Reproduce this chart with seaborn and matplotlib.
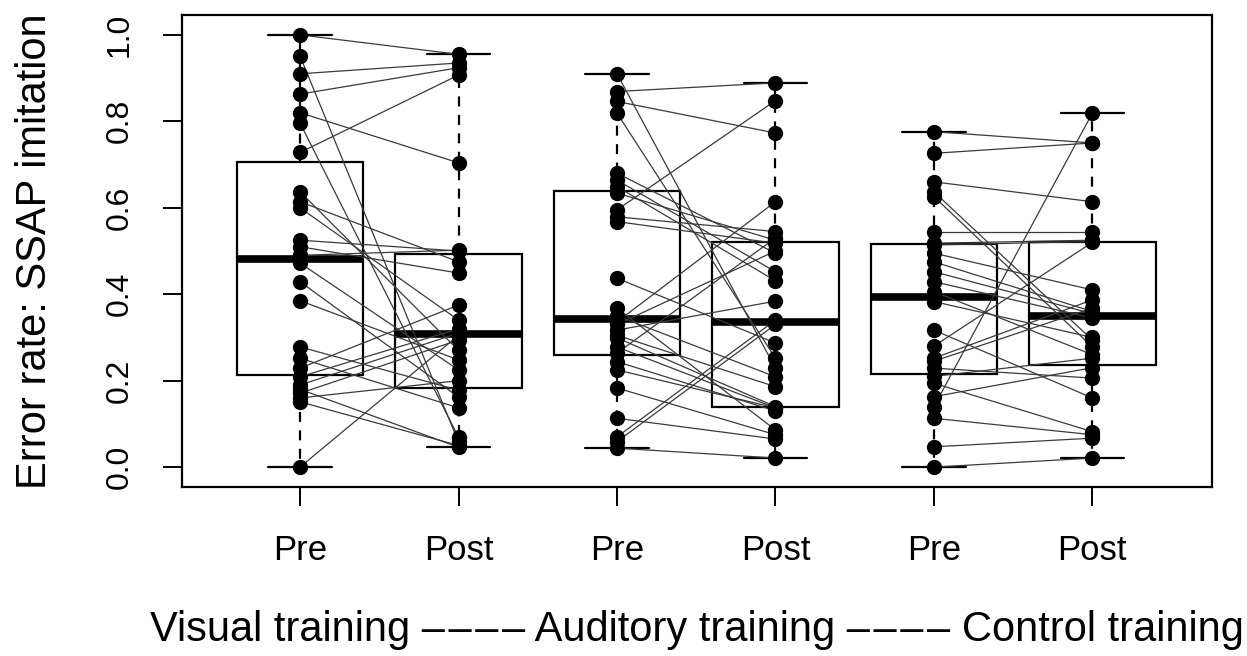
import pandas as pd
import seaborn as sns
import matplotlib.pyplot as plt

# error rates per participant, pre and post (same order = same participant)
groups = ["Visual", "Auditory", "Control"]
phases = ["Pre", "Post"]
tick_labels = ["Pre", "Post", "Pre", "Post", "Pre", "Post"]
y_ticks = [0.0, 0.2, 0.4, 0.6, 0.8, 1.0]
y_tick_labels = ["0.0", "0.2", "0.4", "0.6", "0.8", "1.0"]

visual_pre = [1.0, 0.951, 0.91, 0.863, 0.82, 0.796, 0.728, 0.637, 0.614, 0.60, 0.525, 0.51, 0.49,
              0.472, 0.429, 0.385, 0.278, 0.252, 0.229, 0.209, 0.19, 0.18, 0.171, 0.16, 0.151, 0.0]
visual_post = [0.955, 0.058, 0.935, 0.924, 0.704, 0.069, 0.907, 0.27, 0.475, 0.34, 0.50, 0.449, 0.502,
               0.225, 0.162, 0.248, 0.178, 0.137, 0.375, 0.32, 0.31, 0.046, 0.294, 0.20, 0.05, 0.305]

auditory_pre = [0.91, 0.869, 0.846, 0.819, 0.68, 0.664, 0.649, 0.634, 0.595, 0.579, 0.568, 0.437, 0.368, 0.35,
                0.336, 0.33, 0.317, 0.305, 0.299, 0.278, 0.264, 0.244, 0.225, 0.183, 0.113, 0.070, 0.059, 0.044]
auditory_post = [0.229, 0.889, 0.773, 0.252, 0.495, 0.452, 0.431, 0.525, 0.848, 0.545, 0.518, 0.287, 0.086, 0.209,
                 0.614, 0.50, 0.384, 0.186, 0.14, 0.137, 0.53, 0.13, 0.137, 0.075, 0.065, 0.34, 0.33, 0.021]

control_pre = [0.776, 0.726, 0.66, 0.637, 0.626, 0.545, 0.518, 0.514, 0.495, 0.475, 0.452, 0.429, 0.406,
               0.383, 0.317, 0.28, 0.252, 0.245, 0.229, 0.21, 0.194, 0.163, 0.14, 0.113, 0.047, 0.0]
control_post = [0.75, 0.75, 0.614, 0.294, 0.278, 0.545, 0.525, 0.522, 0.41, 0.36, 0.355, 0.345, 0.26,
                0.30, 0.16, 0.52, 0.387, 0.368, 0.206, 0.252, 0.082, 0.23, 0.819, 0.075, 0.067, 0.021]

pre_lists = [visual_pre, auditory_pre, control_pre]
post_lists = [visual_post, auditory_post, control_post]

rows = []
for g, pre, post in zip(groups, pre_lists, post_lists):
    for i, (a, b) in enumerate(zip(pre, post)):
        rows.append({"subject": g + str(i), "cond": g + " Pre", "value": a})
        rows.append({"subject": g + str(i), "cond": g + " Post", "value": b})
df = pd.DataFrame(rows)
order = [g + " " + p for g in groups for p in phases]

sns.set_style("white")
plt.rcParams["font.family"] = ["Liberation Sans", "DejaVu Sans"]
plt.rcParams["text.color"] = "black"
plt.rcParams["axes.labelcolor"] = "black"
plt.rcParams["xtick.color"] = "black"
plt.rcParams["ytick.color"] = "black"

fig = plt.figure(figsize=(12.47, 6.56), dpi=100)
ax = fig.add_axes([182 / 1247, 1 - 487 / 656, 1030 / 1247, 472 / 656])

sns.boxplot(data=df, x="cond", y="value", order=order, width=0.8, whis=(0, 100),
            fliersize=0, fill=True, color="white", linecolor="black", linewidth=1.6,
            boxprops=dict(facecolor="white", edgecolor="black"),
            whiskerprops=dict(linestyle=(0, (4.5, 3.8))),
            medianprops=dict(linewidth=5.5, color="black", solid_capstyle="butt"),
            ax=ax, zorder=1)

sns.lineplot(data=df, x="cond", y="value", units="subject", estimator=None, sort=False,
             color="#3a3a3a", linewidth=0.9, ax=ax, zorder=3, legend=False)

sns.stripplot(data=df, x="cond", y="value", order=order, jitter=False, color="black",
              size=11, linewidth=0, ax=ax, zorder=4)

ax.set_xlim(-0.745, 5.755)
ax.set_ylim(-0.046, 1.046)
ax.set_xticks(range(len(order)))
ax.set_xticklabels(tick_labels, fontsize=25)
ax.set_yticks(y_ticks)
ax.set_yticklabels(y_tick_labels, fontsize=23, rotation=90, va="center")
ax.tick_params(axis="x", length=14, width=1.4, pad=20, color="black", bottom=True)
ax.tick_params(axis="y", length=14, width=1.4, pad=20, color="black", left=True)

for s in ax.spines.values():
    s.set_visible(True)
    s.set_color("black")
    s.set_linewidth(1.6)

dashes = "\u2013\u200a\u2013\u200a\u2013\u200a\u2013"
ax.set_xlabel("Visual training " + dashes + " Auditory training " + dashes + " Control training",
              fontsize=30, labelpad=31)
ax.set_ylabel("Error rate: SSAP imitation", fontsize=30, labelpad=36)

fig.savefig("out.png", dpi=100)
